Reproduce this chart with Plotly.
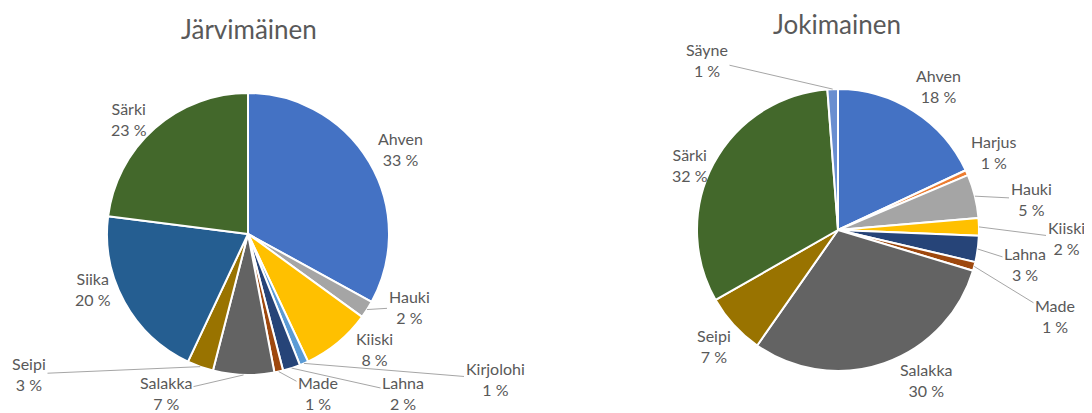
import math
import plotly.graph_objects as go

# Järvimäinen (lake-type) catch shares, %
lake_labels = ["Ahven", "Hauki", "Kiiski", "Kirjolohi", "Lahna", "Made",
               "Salakka", "Seipi", "Siika", "Särki"]
lake_values = [33, 2, 8, 1, 2, 1, 7, 3, 20, 23]

# Jokimainen (river-type) catch shares, %
river_labels = ["Ahven", "Harjus", "Hauki", "Kiiski", "Lahna", "Made",
                "Salakka", "Seipi", "Särki", "Säyne"]
river_values = [18, 0.6, 5, 2, 3, 1, 30, 7, 32, 1.2]

lake_colors = ["#4472C4", "#A5A5A5", "#FFC000", "#5B9BD5", "#264478", "#9E480E",
               "#636363", "#997300", "#255E91", "#43682B"]
river_colors = ["#4472C4", "#ED7D31", "#A5A5A5", "#FFC000", "#264478", "#9E480E",
                "#636363", "#997300", "#43682B", "#698ED0"]

# label placement (page px, centre of the two-line label) and leader flag
lake_lab_pos = [(400, 149), (409, 307), (374, 349), (495, 379), (403, 393),
                (318, 393), (166, 393), (29, 374), (93, 289), (129, 119)]
lake_leader = [0, 1, 0, 1, 1, 1, 1, 1, 0, 0]
river_lab_pos = [(938, 86), (994, 152), (1031, 199), (1066, 238), (1025, 264),
                 (1055, 316), (926, 380), (714, 346), (690, 165), (707, 60)]
river_leader = [0, 0, 1, 1, 1, 1, 0, 0, 0, 1]

W, H = 1084, 405      # figure size; page body adds 8 px margin
OX, OY = 8, 8
FONT = "Lato, 'Open Sans', sans-serif"
GREY = "#595959"


def px(X, Y):
    return (X - OX) / W, 1 - (Y - OY) / H


fig = go.Figure()
annotations = []


def add_pie(labels, values, colors, cx, cy, r, lab_pos, leader):
    x0, y1 = px(cx - r, cy - r)
    x1, y0 = px(cx + r, cy + r)
    fig.add_trace(go.Pie(
        labels=labels,
        values=values,
        sort=False,
        direction="clockwise",
        rotation=0,
        marker=dict(colors=colors, line=dict(color="white", width=2)),
        textinfo="none",
        hoverinfo="label+percent",
        showlegend=False,
        automargin=False,
        domain=dict(x=[x0, x1], y=[y0, y1]),
    ))
    total = sum(values)
    cum = 0
    for lab, v, (lx, ly), ld in zip(labels, values, lab_pos, leader):
        theta = 2 * math.pi * (cum + v / 2) / total
        cum += v
        text = f"{lab}<br>{round(100 * v / total)} %"
        if ld:
            hx = cx + r * math.sin(theta)
            hy = cy - r * math.cos(theta)
            ax_, ay_ = px(hx, hy)
            annotations.append(dict(
                text=text, x=ax_, y=ay_, xref="paper", yref="paper",
                showarrow=True, arrowhead=0, arrowwidth=1, arrowcolor="#A6A6A6",
                ax=lx - hx, ay=ly - hy, standoff=0,
                font=dict(family=FONT, size=16, color=GREY)))
        else:
            tx, ty = px(lx, ly)
            annotations.append(dict(
                text=text, x=tx, y=ty, xref="paper", yref="paper",
                xanchor="center", yanchor="middle", showarrow=False,
                font=dict(family=FONT, size=16, color=GREY)))


add_pie(lake_labels, lake_values, lake_colors, 248, 234, 141,
        lake_lab_pos, lake_leader)
add_pie(river_labels, river_values, river_colors, 838, 230, 141,
        river_lab_pos, river_leader)

for title, (tx, ty) in [("Järvimäinen", (249, 29)), ("Jokimainen", (837, 24))]:
    x, y = px(tx, ty)
    annotations.append(dict(text=title, x=x, y=y, xref="paper", yref="paper",
                            xanchor="center", yanchor="middle", showarrow=False,
                            font=dict(family=FONT, size=26, color=GREY)))

fig.update_layout(
    width=W, height=H,
    margin=dict(l=0, r=0, t=0, b=0),
    paper_bgcolor="white",
    plot_bgcolor="white",
    annotations=annotations,
)

fig.write_html("out.html")
